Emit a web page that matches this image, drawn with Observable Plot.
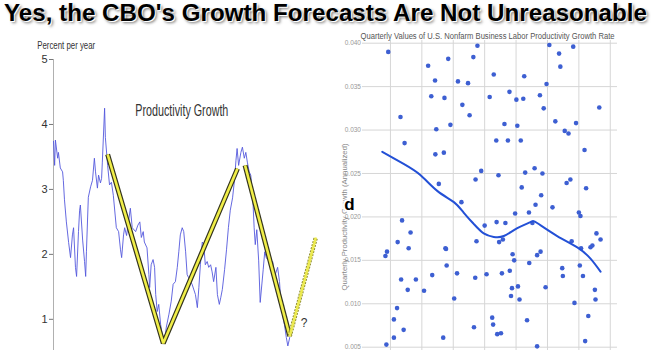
<!DOCTYPE html>
<html>
<head>
<meta charset="utf-8">
<script src="https://cdn.jsdelivr.net/npm/d3@7"></script>
<script src="https://cdn.jsdelivr.net/npm/@observablehq/plot@0.6"></script>
<style>
  html, body { margin: 0; padding: 0; background: #fff; }
  body { width: 651px; height: 350px; overflow: hidden; font-family: "Liberation Sans", Arial, sans-serif; }
  #title { height: 32px; position: relative; }
  #title span { position: absolute; left: 4px; top: 1px; font-size: 24px; line-height: 24px; font-weight: bold; color: #000;
    white-space: nowrap; transform-origin: 0 0; text-shadow: 1px 1px 0 #fff, 2px 2px 3px #777; }
  #row { display: flex; }
</style>
</head>
<body>
<div id="title"><span>Yes, the CBO's Growth Forecasts Are Not Unreasonable</span></div>
<div id="row"><div id="left"></div><div id="right"></div></div>
<script>
// ---------- Left chart: productivity growth (percent per year) ----------
const blueYears = [
  1950.0,1950.3,1950.5,1951.1,1951.3,1951.8,1952.4,1952.6,1952.9,1953.4,1954.0,1954.5,1955.0,1955.3,1955.8,1956.1,
  1956.6,1956.9,1957.1,1957.7,1958.2,1958.5,1958.7,1959.2,1959.8,1960.3,1960.8,1961.1,1961.6,1961.9,1962.4,1962.7,
  1962.9,1963.5,1963.7,1964.3,1964.8,1965.3,1965.8,1966.6,1967.2,1967.7,1968.0,1968.5,1968.8,1969.3,1969.8,1970.3,
  1970.8,1971.7,1972.3,1972.8,1973.2,1973.7,1974.0,1974.7,1975.2,1975.4,1975.8,1976.3,1976.7,1977.0,1977.4,1977.8,
  1978.3,1978.7,1979.0,1979.3,1979.8,1980.5,1981.1,1981.6,1982.2,1982.7,1983.1,1983.5,1984.0,1984.4,1984.9,1985.3,
  1985.7,1986.6,1987.5,1988.0,1988.4,1988.8,1989.3,1989.7,1990.1,1990.6,1991.0,1991.5,1991.9,1992.3,1992.9,1993.3,
  1993.8,1994.2,1994.6,1995.2,1995.7,1996.2,1996.7,1997.3,1997.8,1998.2,1998.5,1998.9,1999.5,1999.9,2000.4,2000.8,
  2001.2,2001.7,2002.1,2002.6,2003.0,2003.3,2003.7,2004.2,2004.6,2005.4,2005.8,2006.2,2007.0,2007.9,2008.3,2009.2,
  2009.7,2010.1,2011.0,2011.5,2011.9,2012.4
];
const blueValues = [
  3.74,3.37,3.76,3.48,3.57,3.33,3.27,3.14,2.84,2.50,2.18,1.95,2.30,2.41,1.80,1.66,
  2.35,2.68,2.76,2.22,1.89,1.66,2.04,2.88,3.04,3.14,3.48,3.27,3.02,3.22,3.10,3.17,
  3.42,4.25,3.80,3.37,3.07,3.11,2.91,2.41,2.35,2.07,1.95,2.30,2.41,2.29,2.50,2.71,
  2.41,2.35,2.45,2.50,2.26,2.35,2.19,2.10,1.69,1.49,1.84,1.92,1.80,1.38,1.12,1.23,
  0.92,0.77,0.62,0.66,0.88,1.08,1.28,1.54,1.58,1.80,2.04,2.30,2.41,2.35,2.04,1.69,
  1.64,1.54,1.38,1.18,1.49,1.84,2.19,2.15,1.84,1.89,1.80,1.84,1.73,1.58,1.80,1.38,
  1.23,1.34,1.46,1.77,2.07,2.41,2.68,2.87,3.14,3.45,3.63,3.37,3.57,3.65,3.48,3.57,
  3.42,3.27,3.22,2.91,2.41,2.15,2.38,1.90,1.26,1.77,2.04,1.95,1.89,1.89,1.64,1.80,
  1.58,1.23,0.92,0.72,0.59,0.72
];
// Yellow trend zigzag (two solid legs) and dashed "?" projection
const trendYears    = [1964.3, 1979.0, 1998.6, 2000.6, 2012.4];
const trendValues   = [3.54,   0.63,   3.32,   3.37,   0.74];
const trendSegments = ["a",    "a",    "a",    "b",    "b"];
const projYears  = [2012.4, 2019.3];
const projValues = [0.74,   2.26];
const leftTicks = [1, 2, 3, 4, 5];

// ---------- Right chart: quarterly productivity growth scatter ----------
const scatterYears = [
  1949.3,1953.2,1954.5,1962.0,1964.2,1963.0,1964.6,1964.3,1967.0,1967.2,1965.4,1968.4,1969.1,1971.5,1972.9,1974.7,
  1975.2,1976.4,1977.7,1977.1,1978.9,1981.6,1982.9,1983.7,1984.4,1986.3,1987.4,1987.9,1990.1,1990.4,1991.5,1991.8,
  1992.3,1992.6,1992.9,1995.9,1997.6,1998.4,1998.8,1999.7,2000.6,2002.5,2003.7,2004.1,2005.5,2006.1,2006.7,2007.3,
  2008.2,2009.1,2011.8,2012.3,2016.5,
  1948.4,1948.9,1948.7,1951.1,1951.1,1952.1,1952.3,1953.4,1953.7,1954.2,1955.5,1955.8,1956.4,1958.1,1960.7,1963.3,
  1966.8,1967.5,1967.7,1967.9,1970.3,1971.2,1972.6,1976.6,1977.0,1977.4,1980.0,1980.6,1982.4,1982.7,1983.8,1984.0,
  1984.6,1985.2,1985.5,1985.8,1986.6,1988.0,1988.4,1988.7,1988.9,1989.4,1989.7,1990.6,1991.1,1993.5,1994.1,1994.2,
  1995.2,1996.2,1996.7,1997.8,1998.0,1999.4,2001.6,2004.7,2004.9,2007.7,2008.6,2010.0,2010.3,2010.5,2010.7,2011.3,
  2012.0,2013.0,2013.7,2014.3,2015.1,2015.3,2015.6,2016.9,1996.7
];
const scatterValues = [
  0.0390,0.0315,0.0285,0.0374,0.0357,0.0339,0.0301,0.0272,0.0274,0.0337,0.0238,0.0382,0.0306,0.0356,0.0329,0.0354,
  0.0317,0.0384,0.0397,0.0243,0.0253,0.0338,0.0364,0.0288,0.0248,0.0307,0.0288,0.0344,0.0335,0.0305,0.0288,0.0234,
  0.0336,0.0362,0.0251,0.0256,0.0340,0.0250,0.0325,0.0353,0.0398,0.0310,0.0388,0.0373,0.0299,0.0239,0.0296,0.0243,
  0.0396,0.0308,0.0277,0.0233,0.0326,
  0.0155,0.0160,0.0053,0.0082,0.0061,0.0095,0.0171,0.0128,0.0196,0.0070,0.0116,0.0164,0.0182,0.0128,0.0115,0.0133,
  0.0061,0.0164,0.0163,0.0144,0.0106,0.0135,0.0217,0.0073,0.0130,0.0172,0.0190,0.0134,0.0084,0.0076,0.0194,0.0065,
  0.0171,0.0066,0.0135,0.0174,0.0193,0.0138,0.0109,0.0118,0.0157,0.0150,0.0204,0.0120,0.0105,0.0081,0.0205,0.0147,
  0.0193,0.0214,0.0156,0.0160,0.0225,0.0119,0.0211,0.0141,0.0132,0.0172,0.0101,0.0205,0.0144,0.0201,0.0164,0.0132,
  0.0057,0.0086,0.0165,0.0167,0.0116,0.0105,0.0181,0.0174,0.0051
];
const smoothYears  = [1947.4,1954.2,1959.6,1964.9,1970.2,1973.3,1976.5,1979.7,1982.9,1986.1,1990.4,1994.6,1996.7,2003.1,2009.5,2013.7,2016.9];
const smoothValues = [0.0275,0.0261,0.0248,0.0230,0.0217,0.0205,0.0192,0.0181,0.0177,0.0178,0.0187,0.0194,0.0193,0.0178,0.0165,0.0152,0.0137];
const rightYTicks = [0.005, 0.010, 0.015, 0.020, 0.025, 0.030, 0.035, 0.040];
const rightXGrid  = [1950, 1960, 1970, 1980, 1990, 2000, 2010, 2020];

const blue = blueYears.map((x, i) => ({x, y: blueValues[i]}));
const trend = trendYears.map((x, i) => ({x, y: trendValues[i], s: trendSegments[i]}));
const proj = projYears.map((x, i) => ({x, y: projValues[i]}));
const scatter = scatterYears.map((x, i) => ({x, y: scatterValues[i]}));
const smooth = smoothYears.map((x, i) => ({x, y: smoothValues[i]}));

const font = "'Liberation Sans', Arial, sans-serif";

const left = Plot.plot({
  width: 330, height: 318,
  marginLeft: 53, marginRight: 12, marginTop: 27, marginBottom: 0,
  style: {fontFamily: font, background: "#fff", overflow: "visible"},
  x: {domain: [1950, 2020], axis: null},
  y: {domain: [0.52, 5]},
  marks: [
    Plot.ruleX([1950], {y1: 0.52, y2: 5, stroke: "#b0b0b0"}),
    Plot.axisY(leftTicks, {tickSize: 4, tickPadding: 2, stroke: "#777", fill: "#333", fontSize: 11, tickFormat: d => d, label: null}),
    Plot.line(blue, {x: "x", y: "y", stroke: "#5458dc", strokeWidth: 0.9}),
    Plot.line(trend, {x: "x", y: "y", z: "s", stroke: "#34341c", strokeWidth: 5, strokeLinejoin: "miter", strokeLinecap: "butt"}),
    Plot.line(trend, {x: "x", y: "y", z: "s", stroke: "#f0ee48", strokeWidth: 2.6, strokeLinejoin: "miter", strokeLinecap: "butt"}),
    Plot.line(proj, {x: "x", y: "y", stroke: "#8c8a30", strokeWidth: 4.4, strokeDasharray: "2 1.2", strokeLinecap: "butt"}),
    Plot.line(proj, {x: "x", y: "y", stroke: "#ecea50", strokeWidth: 2.6, strokeLinecap: "butt"}),
    Plot.text(["Percent per year"], {x: 1950, y: 5, dx: -16.3, dy: -14.5, textAnchor: "start", fontSize: 11, fill: "#333"}),
    Plot.text(["Productivity Growth"], {x: 1983.9, y: 4.215, fontSize: 16, fill: "#333"}),
    Plot.text(["?"], {x: 2016.2, y: 0.94, fontSize: 12, fill: "#333"})
  ]
});

const right = Plot.plot({
  width: 321, height: 318,
  marginLeft: 32, marginRight: 34, marginTop: 8, marginBottom: 0,
  style: {fontFamily: font, background: "#fff", overflow: "visible"},
  x: {domain: [1941.1, 2022.3], axis: null},
  y: {domain: [0.00462, 0.04031]},
  marks: [
    Plot.gridX(rightXGrid, {stroke: "#d6d6d6", strokeOpacity: 1}),
    Plot.gridY(rightYTicks, {stroke: "#d6d6d6", strokeOpacity: 1}),
    Plot.axisY(rightYTicks, {tickSize: 0, tickPadding: 1.5, tickFormat: d3.format(".3f"), fontSize: 6.5, fill: "#999", label: null}),
    Plot.dot(scatter, {x: "x", y: "y", r: 2.3, fill: "#3d5fd2", stroke: "none"}),
    Plot.line(smooth, {x: "x", y: "y", stroke: "#2350d6", strokeWidth: 2, curve: "natural"}),
    Plot.text(["Quarterly Values of U.S. Nonfarm Business Labor Productivity Growth Rate"], {x: 1980.9, y: 0.0408, fontSize: 8.5, fill: "#555"}),
    Plot.text(["Quarterly Productivity Growth (Annualized)"], {x: 1941.1, y: 0.0200, dx: -18, rotate: -90, fontSize: 7, fill: "#888"}),
    Plot.text(["d"], {x: 1941.1, y: 0.0214, dx: -13, fontSize: 17, fontWeight: "bold", fill: "#000", stroke: "#fff", strokeWidth: 4, paintOrder: "stroke"})
  ]
});

document.getElementById("left").appendChild(left);
document.getElementById("right").appendChild(right);

// Condensed-looking texts: fit to the widths seen in the reference
const fitLengths = {
  "Percent per year": 58,
  "Productivity Growth": 93,
  "Quarterly Values of U.S. Nonfarm Business Labor Productivity Growth Rate": 254,
  "Quarterly Productivity Growth (Annualized)": 147
};
document.querySelectorAll("svg text").forEach(t => {
  const L = fitLengths[t.textContent];
  if (L) { t.setAttribute("textLength", L); t.setAttribute("lengthAdjust", "spacingAndGlyphs"); }
});

// Title: stretch to the full width of the banner
const ts = document.querySelector("#title span");
const w = ts.getBoundingClientRect().width;
ts.style.transform = `scaleX(${643 / w})`;
</script>
</body>
</html>
